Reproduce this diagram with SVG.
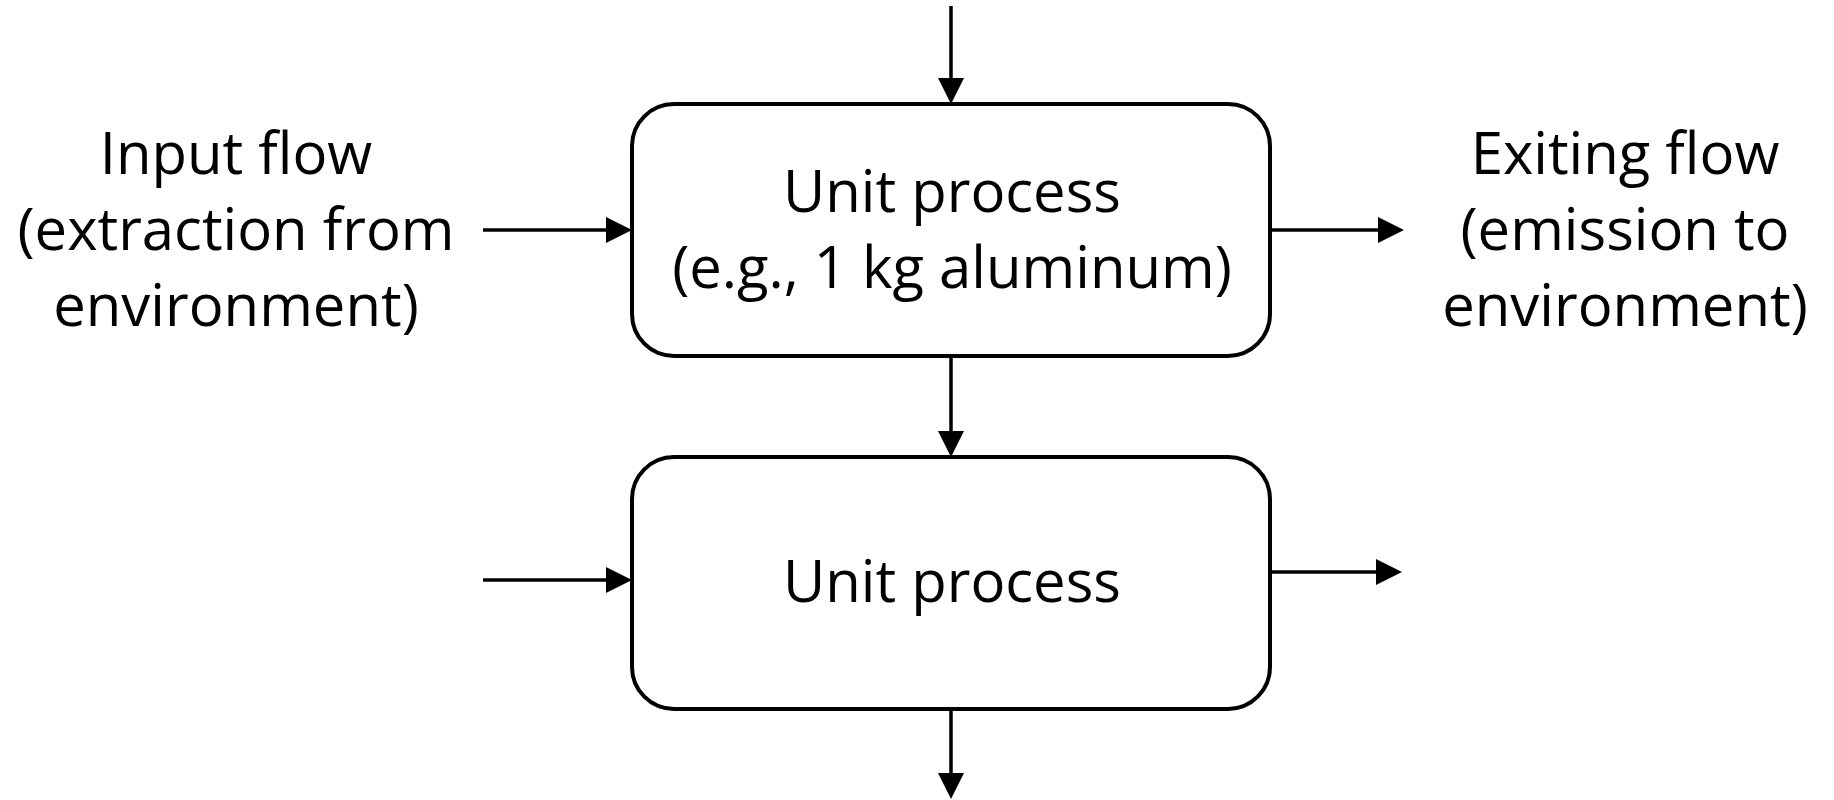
<svg xmlns="http://www.w3.org/2000/svg" width="1834" height="800" viewBox="0 0 1834 800">
<style>
.box{fill:#ffffff;stroke:#000000;stroke-width:4}
.lbl{font-family:"Open Sans","Liberation Sans",sans-serif;font-size:58px;fill:#000000;text-anchor:middle}
.con{stroke:#000000;stroke-width:3.5;fill:none;marker-end:url(#arr)}
</style>
<defs>
<marker id="arr" markerUnits="userSpaceOnUse" markerWidth="27" markerHeight="26" refX="18" refY="13" orient="auto">
<path d="M0,0 L26,13 L0,26 Z" fill="#000000"/>
</marker>
</defs>
<rect width="1834" height="800" fill="#ffffff"/>
<g id="connectors">
<line class="con" x1="951" y1="6" x2="951" y2="96"/>
<line class="con" x1="951" y1="356" x2="951" y2="449"/>
<line class="con" x1="951" y1="709" x2="951" y2="791"/>
<line class="con" x1="483" y1="230" x2="624" y2="230"/>
<line class="con" x1="1270" y1="230" x2="1396" y2="230"/>
<line class="con" x1="483" y1="580" x2="624" y2="580"/>
<line class="con" x1="1270" y1="572" x2="1394" y2="572"/>
</g>
<g id="unit-process-1">
<rect class="box" x="632" y="104" width="638" height="252" rx="42" ry="42"/>
<text class="lbl" x="952" y="212">Unit process</text>
<text class="lbl" x="952" y="288">(e.g., 1 kg aluminum)</text>
</g>
<g id="unit-process-2">
<rect class="box" x="632" y="457" width="638" height="252" rx="42" ry="42"/>
<text class="lbl" x="952" y="602">Unit process</text>
</g>
<g id="input-flow">
<text class="lbl" x="236" y="174">Input flow</text>
<text class="lbl" x="236" y="250">(extraction from</text>
<text class="lbl" x="236" y="326">environment)</text>
</g>
<g id="exiting-flow">
<text class="lbl" x="1625" y="174">Exiting flow</text>
<text class="lbl" x="1625" y="250">(emission to</text>
<text class="lbl" x="1625" y="326">environment)</text>
</g>
</svg>
